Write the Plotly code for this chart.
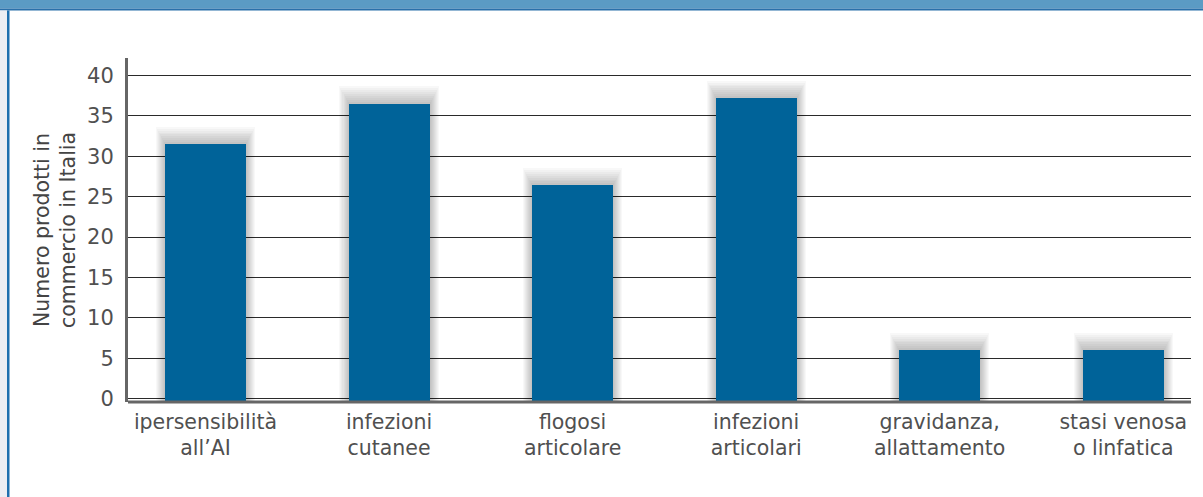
import plotly.graph_objects as go

categories = ["ipersensibilità<br>all’AI", "infezioni<br>cutanee", "flogosi<br>articolare",
              "infezioni<br>articolari", "gravidanza,<br>allattamento", "stasi venosa<br>o linfatica"]
values = [31.5, 36.5, 26.4, 37.2, 6.0, 6.0]
y_ticks = [0, 5, 10, 15, 20, 25, 30, 35, 40]
y_title = "Numero prodotti in<br>commercio in Italia"

W, H = 1203, 497
L, R, T, B = 128, 12, 58, 95
Y_MIN, Y_MAX = -0.41, 42.16
X_MIN, X_MAX = -0.422, 5.369
BAR_W = 0.441
BAR_COLOR = "#006399"
FONT = "DejaVu Sans"
TXT = "#505050"
FS_X = 20.5
FS_Y = 21
FS_T = 20.5

xs = list(range(len(categories)))
fig = go.Figure()

# soft shadow layers
for k in range(9, 0, -1):
    fig.add_trace(go.Bar(
        x=xs, y=[v + k * 0.24 - Y_MIN for v in values], base=Y_MIN,
        width=BAR_W + k * 0.011, marker=dict(color="rgba(0,0,0,0.026)", line=dict(width=0)),
        hoverinfo="skip", showlegend=False))

fig.add_trace(go.Bar(
    x=xs, y=[v - Y_MIN for v in values], base=Y_MIN, width=BAR_W,
    marker=dict(color=BAR_COLOR, line=dict(width=0)), showlegend=False))

pw, ph = W - L - R, H - T - B
def px(x):
    return (x - L) / pw
def py(y):
    return (H - B - y) / ph

shapes = [
    dict(type="rect", xref="paper", yref="paper", x0=px(0), x1=px(W), y0=py(0), y1=py(8.5),
         fillcolor="#5b9bc4", line=dict(width=0), layer="above"),
    dict(type="rect", xref="paper", yref="paper", x0=px(0), x1=px(W), y0=py(8.5), y1=py(10.5),
         fillcolor="#2a70aa", line=dict(width=0), layer="above"),
    dict(type="rect", xref="paper", yref="paper", x0=px(0), x1=px(7), y0=py(10.5), y1=py(H),
         fillcolor="#eceef3", line=dict(width=0), layer="above"),
    dict(type="rect", xref="paper", yref="paper", x0=px(7), x1=px(9.5), y0=py(10.5), y1=py(H),
         fillcolor="#1e6fae", line=dict(width=0), layer="above"),
]

fig.update_layout(
    width=W, height=H, margin=dict(l=L, r=R, t=T, b=B),
    paper_bgcolor="white", plot_bgcolor="white", barmode="overlay", bargap=0,
    font=dict(family=FONT, color=TXT, size=FS_Y),
    shapes=shapes,
    xaxis=dict(range=[X_MIN, X_MAX], tickmode="array", tickvals=xs, ticktext=categories,
               showgrid=False, zeroline=False, showline=False, ticks="",
               ticklabelstandoff=5, tickfont=dict(size=FS_X, color=TXT)),
    yaxis=dict(range=[Y_MIN, Y_MAX], tickmode="array", tickvals=y_ticks,
               showgrid=True, gridcolor="#2a2a2a", gridwidth=1, zeroline=False,
               showline=True, linecolor="#666666", linewidth=3, ticks="",
               ticklabelstandoff=7, tickfont=dict(size=FS_Y, color=TXT),
               title=dict(text=y_title, font=dict(size=FS_T, color="#444444"), standoff=6)),
)
# bottom axis line
fig.add_shape(type="line", xref="paper", yref="paper", x0=0, x1=1, y0=0, y1=0,
              line=dict(color="#666666", width=3), layer="above")

fig.write_html("out.html")
